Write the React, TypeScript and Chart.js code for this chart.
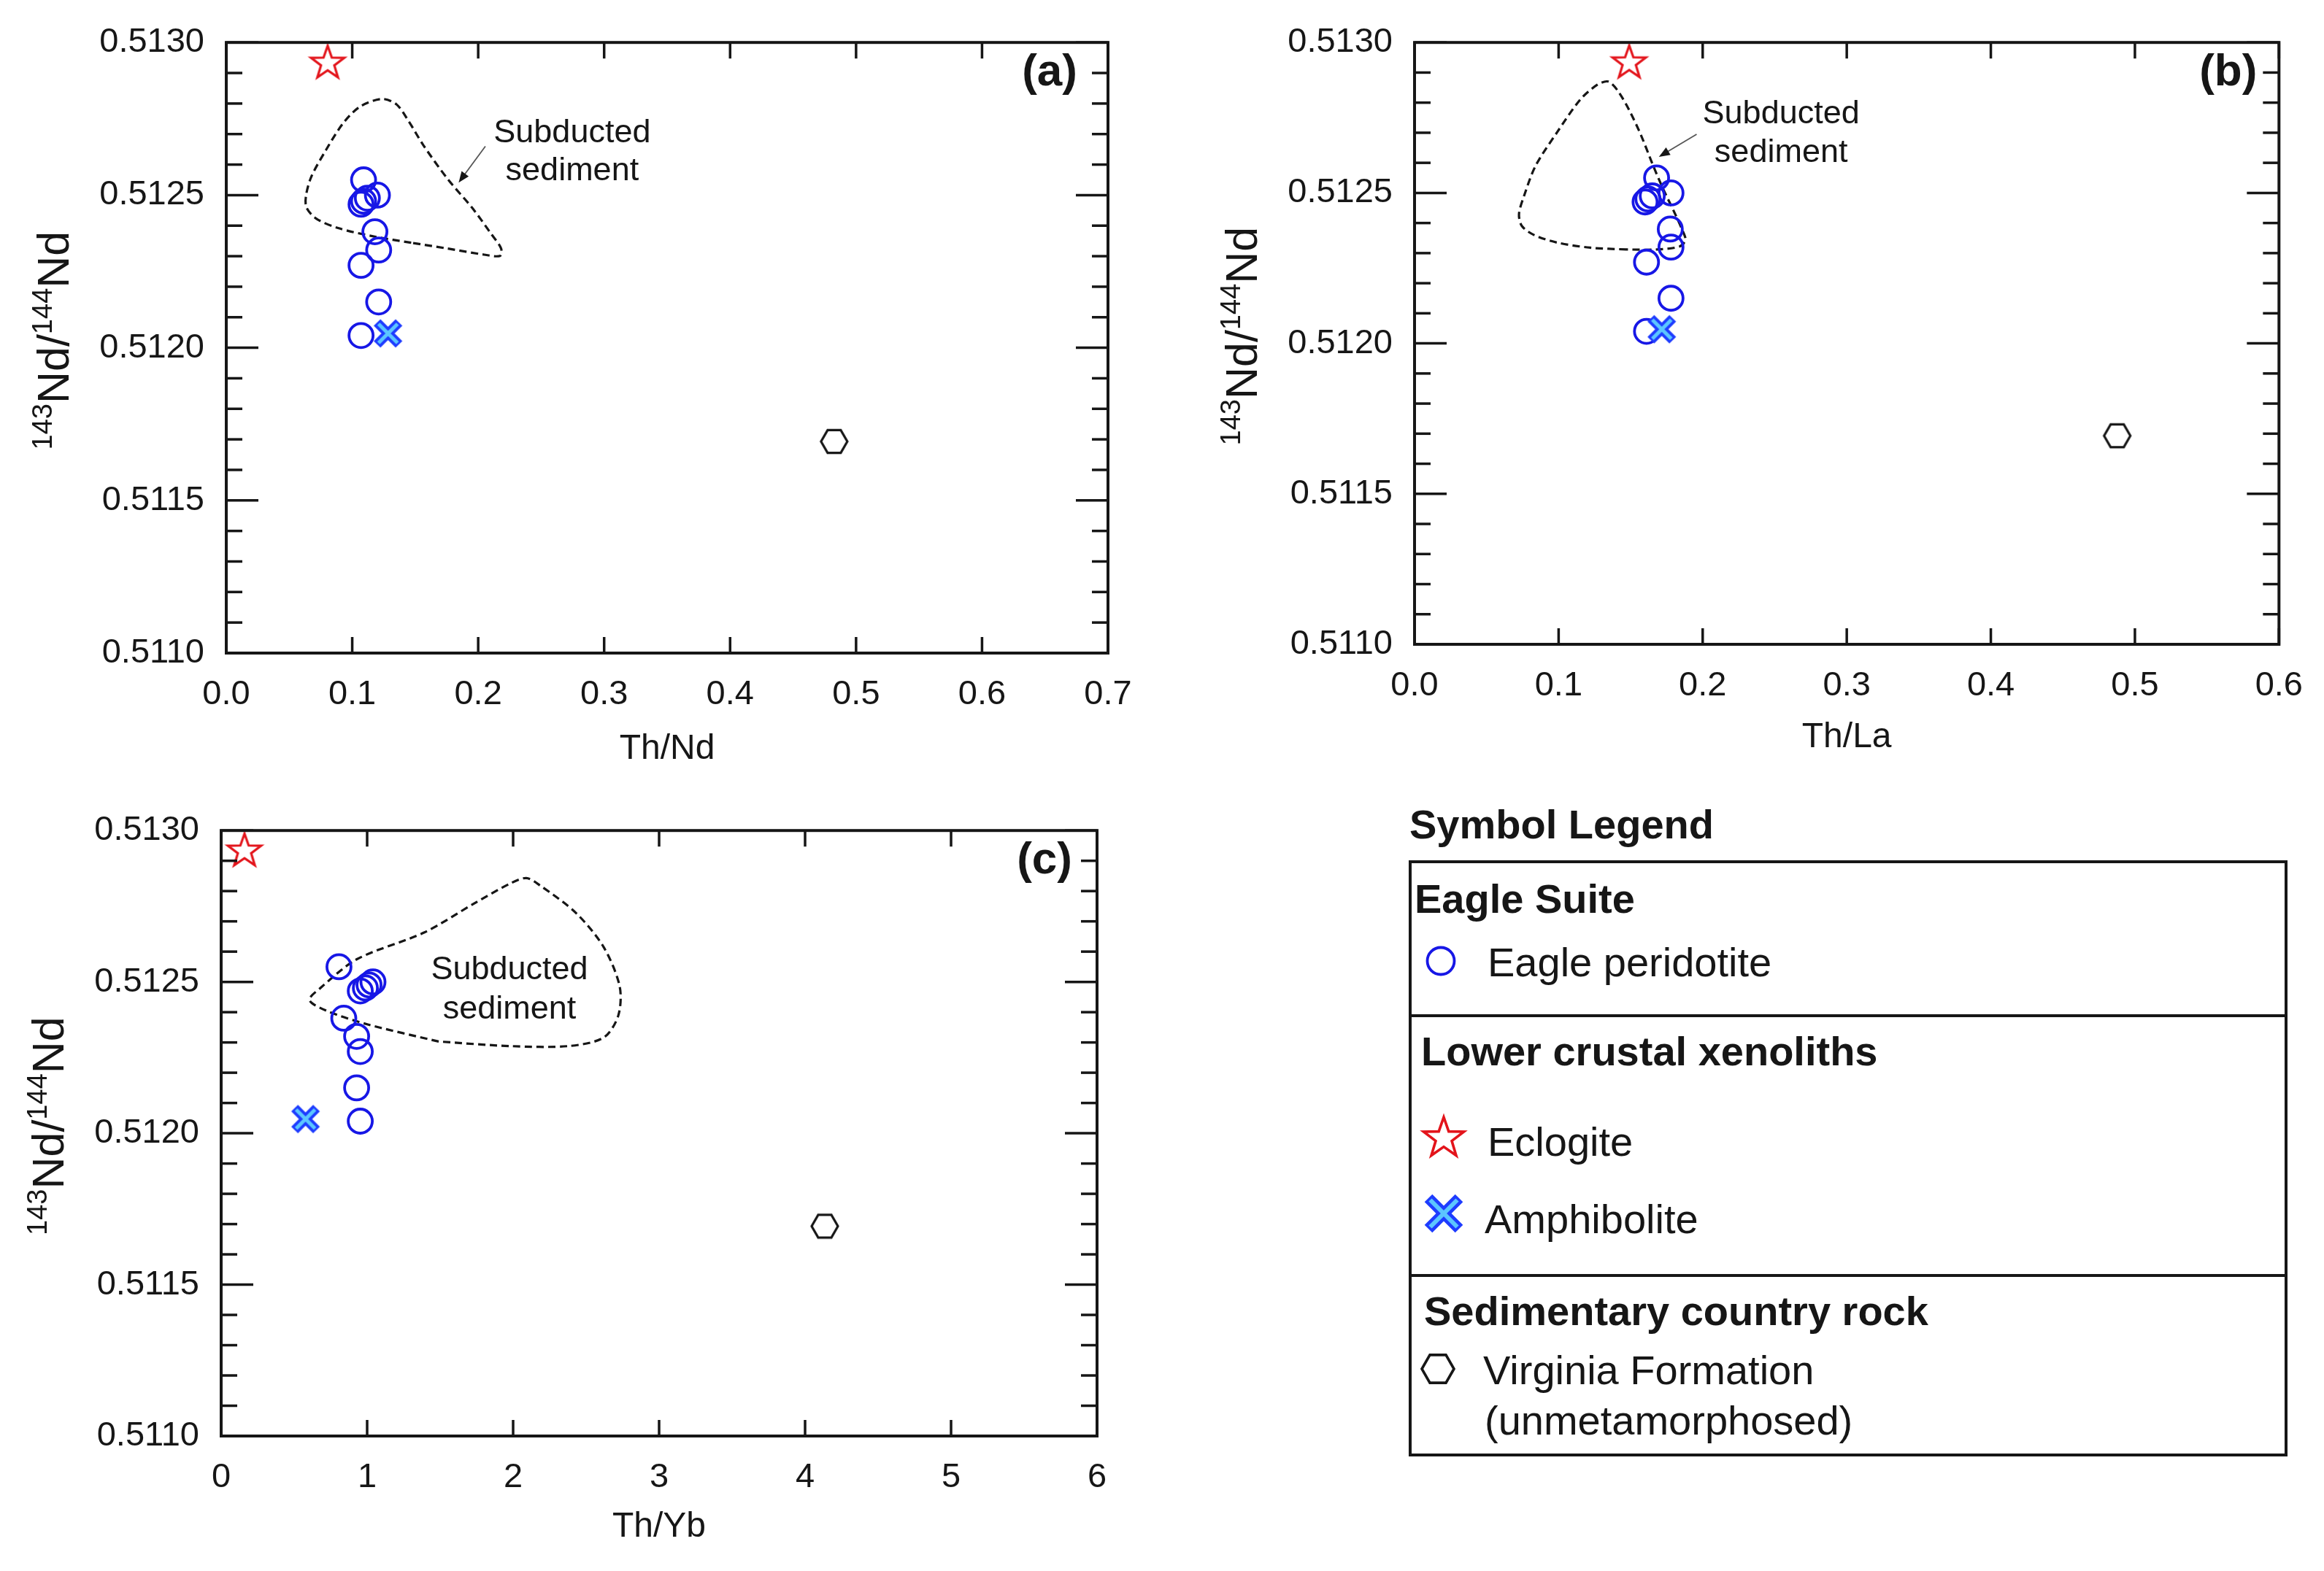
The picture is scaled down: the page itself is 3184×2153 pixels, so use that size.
import React, { useEffect, useRef } from "react";
import { Chart, registerables } from "chart.js";

Chart.register(...registerables);

const FONT = "'Liberation Sans', Arial, Helvetica, sans-serif";
const INK = "#161616";
const BLUE = "#1717e6";
const RED = "#e3141b";
const XBLUE = "#1e3cff";
const XLIGHT = "#5cc6ff";

// ---------- data: 143Nd/144Nd (shared by the three panels) ----------
const peridotiteNd = [0.51255, 0.5125, 0.51247, 0.51248, 0.51249, 0.51238, 0.51232, 0.51227, 0.51215, 0.51204];
const peridotiteThNd = [0.109, 0.12, 0.107, 0.109, 0.112, 0.118, 0.121, 0.107, 0.121, 0.107];
const peridotiteThLa = [0.168, 0.178, 0.16, 0.162, 0.165, 0.1775, 0.178, 0.161, 0.178, 0.161];
const peridotiteThYb = [0.807, 1.04, 0.953, 0.988, 1.013, 0.84, 0.928, 0.953, 0.928, 0.953];

const eclogiteNd = [0.512932];
const eclogiteThNd = [0.0805];
const eclogiteThLa = [0.149];
const eclogiteThYb = [0.16];

const amphiboliteNd = [0.512047];
const amphiboliteThNd = [0.1284];
const amphiboliteThLa = [0.1716];
const amphiboliteThYb = [0.578];

const virginiaNd = [0.511693];
const virginiaThNd = [0.4826];
const virginiaThLa = [0.4877];
const virginiaThYb = [4.135];

// ---------- subducted sediment fields (outline vertices, data units) ----------
const fieldThNdX = [0.1468, 0.1178, 0.0888, 0.0714, 0.0637, 0.0633, 0.0676, 0.0792, 0.0927, 0.1062, 0.1236, 0.1352, 0.1448, 0.1564, 0.1757, 0.1951, 0.2105, 0.2182, 0.2173, 0.2047, 0.1757, 0.1468];
const fieldThNdY = [0.512344, 0.512364, 0.512392, 0.512423, 0.512459, 0.512498, 0.512561, 0.512648, 0.512735, 0.51279, 0.512815, 0.512797, 0.512742, 0.512664, 0.512553, 0.512459, 0.512372, 0.512325, 0.512301, 0.512305, 0.512325, 0.512344];

const fieldThLaX = [0.147, 0.122, 0.099, 0.083, 0.0745, 0.0725, 0.076, 0.084, 0.099, 0.115, 0.127, 0.1345, 0.141, 0.149, 0.157, 0.165, 0.172, 0.18, 0.186, 0.188, 0.184, 0.168, 0.147];
const fieldThLaY = [0.512312, 0.512318, 0.512335, 0.51236, 0.51239, 0.51243, 0.51249, 0.51259, 0.512702, 0.51281, 0.51286, 0.51287, 0.51284, 0.512775, 0.512694, 0.512598, 0.512519, 0.512439, 0.512375, 0.512344, 0.512322, 0.512312, 0.512312];

const fieldThYbX = [1.49, 1.0, 0.72, 0.605, 0.68, 0.93, 1.39, 1.74, 1.98, 2.09, 2.18, 2.43, 2.62, 2.73, 2.72, 2.62, 2.38, 1.98, 1.49];
const fieldThYbY = [0.512303, 0.51236, 0.512405, 0.51244, 0.51248, 0.512575, 0.512663, 0.512761, 0.512825, 0.512843, 0.51282, 0.512728, 0.512615, 0.512485, 0.512388, 0.512316, 0.512288, 0.512288, 0.512303];

// ---------- ticks ----------
const yTicks = [0.511, 0.5111, 0.5112, 0.5113, 0.5114, 0.5115, 0.5116, 0.5117, 0.5118, 0.5119, 0.512, 0.5121, 0.5122, 0.5123, 0.5124, 0.5125, 0.5126, 0.5127, 0.5128, 0.5129, 0.513];
const xTicksThNd = [0, 0.1, 0.2, 0.3, 0.4, 0.5, 0.6, 0.7];
const xTicksThLa = [0, 0.1, 0.2, 0.3, 0.4, 0.5, 0.6];
const xTicksThYb = [0, 1, 2, 3, 4, 5, 6];

type Box = { left: number; top: number; width: number; height: number; yAxisW: number; padTop: number; padRight: number; titlePadBottom: number; letterInset: number };
type PanelDef = {
  letter: string;
  xTitle: string;
  xMax: number;
  xTicks: number[];
  xDecimals: number;
  periX: number[];
  eclX: number[];
  amphX: number[];
  virgX: number[];
  fieldX: number[];
  fieldY: number[];
  label: { x: number; y1: number; y2: number };
  arrow: { x1: number; y1: number; x2: number; y2: number } | null;
  box: Box;
};

const X_AXIS_H = 185;

const PANELS: PanelDef[] = [
  {
    letter: "(a)", xTitle: "Th/Nd", xMax: 0.7, xTicks: xTicksThNd, xDecimals: 1,
    periX: peridotiteThNd, eclX: eclogiteThNd, amphX: amphiboliteThNd, virgX: virginiaThNd,
    fieldX: fieldThNdX, fieldY: fieldThNdY,
    label: { x: 0.2746, y1: 0.512702, y2: 0.512579 },
    arrow: { x1: 0.2057, y1: 0.51266, x2: 0.1845, y2: 0.512541 },
    box: { left: 0, top: 0, width: 1600, height: 1080, yAxisW: 310, padTop: 49, padRight: 82, titlePadBottom: 24, letterInset: 42 },
  },
  {
    letter: "(b)", xTitle: "Th/La", xMax: 0.6, xTicks: xTicksThLa, xDecimals: 1,
    periX: peridotiteThLa, eclX: eclogiteThLa, amphX: amphiboliteThLa, virgX: virginiaThLa,
    fieldX: fieldThLaX, fieldY: fieldThLaY,
    label: { x: 0.2544, y1: 0.512761, y2: 0.512632 },
    arrow: { x1: 0.1958, y1: 0.512695, x2: 0.1696, y2: 0.51262 },
    box: { left: 1600, top: 0, width: 1584, height: 1068, yAxisW: 338, padTop: 45, padRight: 51, titlePadBottom: 28, letterInset: 30 },
  },
  {
    letter: "(c)", xTitle: "Th/Yb", xMax: 6, xTicks: xTicksThYb, xDecimals: 0,
    periX: peridotiteThYb, eclX: eclogiteThYb, amphX: amphiboliteThYb, virgX: virginiaThYb,
    fieldX: fieldThYbX, fieldY: fieldThYbY,
    label: { x: 1.975, y1: 0.512538, y2: 0.512409 },
    arrow: null,
    box: { left: 0, top: 1080, width: 1560, height: 1073, yAxisW: 303, padTop: 41, padRight: 57, titlePadBottom: 31, letterInset: 34 },
  },
];

// ---------- marker glyphs ----------
function starPts(cx: number, cy: number, R: number, ratio: number): [number, number][] {
  const pts: [number, number][] = [];
  for (let i = 0; i < 10; i++) {
    const a = -Math.PI / 2 + (i * Math.PI) / 5;
    const r = i % 2 === 0 ? R : R * ratio;
    pts.push([cx + r * Math.cos(a), cy + r * Math.sin(a)]);
  }
  return pts;
}
function hexPts(cx: number, cy: number, r: number): [number, number][] {
  const pts: [number, number][] = [];
  for (let k = 0; k < 6; k++) {
    const a = (k * Math.PI) / 3;
    pts.push([cx + r * Math.cos(a), cy + r * Math.sin(a)]);
  }
  return pts;
}
function makeCanvas(size: number) {
  const c = document.createElement("canvas");
  c.width = size;
  c.height = size;
  return c;
}
function starCanvas(R: number, lw: number) {
  const s = Math.ceil(2 * R + lw * 4);
  const c = makeCanvas(s);
  const ctx = c.getContext("2d")!;
  ctx.beginPath();
  starPts(s / 2, s / 2, R, 0.4).forEach(([x, y], i) => (i ? ctx.lineTo(x, y) : ctx.moveTo(x, y)));
  ctx.closePath();
  ctx.lineJoin = "miter";
  ctx.lineWidth = lw;
  ctx.strokeStyle = RED;
  ctx.stroke();
  return c;
}
function hexCanvas(r: number, lw: number) {
  const s = Math.ceil(2 * r + lw * 3);
  const c = makeCanvas(s);
  const ctx = c.getContext("2d")!;
  ctx.beginPath();
  hexPts(s / 2, s / 2, r).forEach(([x, y], i) => (i ? ctx.lineTo(x, y) : ctx.moveTo(x, y)));
  ctx.closePath();
  ctx.lineWidth = lw;
  ctx.strokeStyle = INK;
  ctx.stroke();
  return c;
}
function crossCanvas(h: number, outer: number, inner: number) {
  const s = Math.ceil(2 * h + outer * 2);
  const c = makeCanvas(s);
  const ctx = c.getContext("2d")!;
  const m = s / 2;
  const seg = (d: number, w: number, col: string) => {
    ctx.lineWidth = w;
    ctx.strokeStyle = col;
    ctx.lineCap = "butt";
    ctx.beginPath();
    ctx.moveTo(m - d, m - d);
    ctx.lineTo(m + d, m + d);
    ctx.moveTo(m - d, m + d);
    ctx.lineTo(m + d, m - d);
    ctx.stroke();
  };
  seg(h, outer, XBLUE);
  seg(h - 2, inner, XLIGHT);
  return c;
}

function drawYTitle(ctx: CanvasRenderingContext2D, baseX: number, cy: number) {
  const parts = [
    { t: "143", sup: true },
    { t: "Nd/", sup: false },
    { t: "144", sup: true },
    { t: "Nd", sup: false },
  ];
  const big = `61px ${FONT}`;
  const small = `38px ${FONT}`;
  ctx.save();
  ctx.translate(baseX, cy);
  ctx.rotate(-Math.PI / 2);
  const widths = parts.map((p) => {
    ctx.font = p.sup ? small : big;
    return ctx.measureText(p.t).width;
  });
  const total = widths.reduce((a, b) => a + b, 0);
  let x = -total / 2;
  ctx.fillStyle = INK;
  ctx.textBaseline = "alphabetic";
  ctx.textAlign = "left";
  parts.forEach((p, i) => {
    ctx.font = p.sup ? small : big;
    ctx.fillText(p.t, x, p.sup ? -23 : 0);
    x += widths[i];
  });
  ctx.restore();
}

function decorPlugin(p: PanelDef) {
  return {
    id: "decor",
    afterDatasetsDraw(chart: any) {
      const { ctx, chartArea: ca, scales } = chart;
      const xs = scales.x;
      const ys = scales.y;
      ctx.save();
      ctx.strokeStyle = INK;
      ctx.lineCap = "butt";
      ctx.lineWidth = 3.5;
      const line = (x1: number, y1: number, x2: number, y2: number) => {
        ctx.beginPath();
        ctx.moveTo(x1, y1);
        ctx.lineTo(x2, y2);
        ctx.stroke();
      };
      xs.ticks.forEach((t: any) => {
        const px = xs.getPixelForValue(t.value);
        line(px, ca.bottom, px, ca.bottom - 22);
        line(px, ca.top, px, ca.top + 22);
      });
      ys.ticks.forEach((t: any, i: number) => {
        const py = ys.getPixelForValue(t.value);
        const L = i % 5 === 0 ? 44 : 22;
        line(ca.left, py, ca.left + L, py);
        line(ca.right, py, ca.right - L, py);
      });
      ctx.lineWidth = 4;
      ctx.strokeRect(ca.left, ca.top, ca.right - ca.left, ca.bottom - ca.top);

      // arrow
      if (p.arrow) {
        const x1 = xs.getPixelForValue(p.arrow.x1);
        const y1 = ys.getPixelForValue(p.arrow.y1);
        const x2 = xs.getPixelForValue(p.arrow.x2);
        const y2 = ys.getPixelForValue(p.arrow.y2);
        const ang = Math.atan2(y2 - y1, x2 - x1);
        const hl = 15;
        const hw = 6;
        ctx.strokeStyle = "#555";
        ctx.lineWidth = 1.8;
        line(x1, y1, x2 - Math.cos(ang) * hl * 0.8, y2 - Math.sin(ang) * hl * 0.8);
        ctx.fillStyle = INK;
        ctx.beginPath();
        ctx.moveTo(x2, y2);
        ctx.lineTo(x2 - Math.cos(ang) * hl - Math.sin(ang) * hw, y2 - Math.sin(ang) * hl + Math.cos(ang) * hw);
        ctx.lineTo(x2 - Math.cos(ang) * hl + Math.sin(ang) * hw, y2 - Math.sin(ang) * hl - Math.cos(ang) * hw);
        ctx.closePath();
        ctx.fill();
      }

      // field label
      ctx.fillStyle = INK;
      ctx.font = `45px ${FONT}`;
      ctx.textAlign = "center";
      ctx.textBaseline = "middle";
      const lx = xs.getPixelForValue(p.label.x);
      ctx.fillText("Subducted", lx, ys.getPixelForValue(p.label.y1));
      ctx.fillText("sediment", lx, ys.getPixelForValue(p.label.y2));

      // panel letter
      ctx.font = `bold 62px ${FONT}`;
      ctx.textAlign = "right";
      ctx.fillText(p.letter, ca.right - p.box.letterInset, ca.top + 42);

      // y title
      drawYTitle(ctx, ca.left - 216, (ca.top + ca.bottom) / 2 - 10);
      ctx.restore();
    },
  };
}

function Panel({ p }: { p: PanelDef }) {
  const ref = useRef<HTMLCanvasElement>(null);
  useEffect(() => {
    const star = starCanvas(24, 3.2);
    const hex = hexCanvas(18, 3.2);
    const cross = crossCanvas(15, 13, 5);
    const tickFont = { family: FONT, size: 47 };
    const chart = new Chart(ref.current as HTMLCanvasElement, {
      type: "scatter",
      data: {
        datasets: [
          {
            label: "Amphibolite",
            data: p.amphX.map((x, i) => ({ x, y: amphiboliteNd[i] })),
            pointStyle: cross as any,
            pointRadius: 10,
            order: 0,
          },
          {
            label: "Eagle peridotite",
            data: p.periX.map((x, i) => ({ x, y: peridotiteNd[i] })),
            pointStyle: "circle",
            pointRadius: 16.5,
            pointBorderWidth: 3.8,
            pointBorderColor: BLUE,
            pointBackgroundColor: "rgba(0,0,0,0)",
            order: 1,
          },
          {
            label: "Eclogite",
            data: p.eclX.map((x, i) => ({ x, y: eclogiteNd[i] })),
            pointStyle: star as any,
            pointRadius: 10,
            order: 2,
          },
          {
            label: "Virginia Formation",
            data: p.virgX.map((x, i) => ({ x, y: virginiaNd[i] })),
            pointStyle: hex as any,
            pointRadius: 10,
            order: 3,
          },
          {
            type: "line",
            label: "Subducted sediment",
            data: p.fieldX.map((x, i) => ({ x, y: p.fieldY[i] })),
            borderColor: INK,
            borderWidth: 3.2,
            borderDash: [10, 6],
            pointRadius: 0,
            tension: 0.3,
            fill: false,
            order: 10,
          } as any,
        ],
      },
      options: {
        responsive: false,
        animation: false,
        devicePixelRatio: 1,
        events: [],
        layout: { padding: { top: p.box.padTop, right: p.box.padRight, left: 0, bottom: 0 } },
        plugins: { legend: { display: false }, tooltip: { enabled: false } },
        scales: {
          x: {
            type: "linear",
            position: "bottom",
            min: 0,
            max: p.xMax,
            afterBuildTicks: (s: any) => {
              s.ticks = p.xTicks.map((v) => ({ value: v }));
            },
            afterFit: (s: any) => {
              s.height = X_AXIS_H;
            },
            ticks: {
              autoSkip: false,
              maxRotation: 0,
              padding: 29,
              color: INK,
              font: tickFont,
              callback: (v: any) => Number(v).toFixed(p.xDecimals),
            },
            grid: { display: false, drawTicks: false },
            border: { display: false },
            title: {
              display: true,
              text: p.xTitle,
              color: INK,
              font: { family: FONT, size: 48 },
              padding: { top: 0, bottom: p.box.titlePadBottom },
            },
          },
          y: {
            type: "linear",
            position: "left",
            min: 0.511,
            max: 0.513,
            afterBuildTicks: (s: any) => {
              s.ticks = yTicks.map((v) => ({ value: v }));
            },
            afterFit: (s: any) => {
              s.width = p.box.yAxisW;
            },
            ticks: {
              autoSkip: false,
              padding: 30,
              color: INK,
              font: tickFont,
              callback: (v: any, i: number) => (i % 5 === 0 ? Number(v).toFixed(4) : ""),
            },
            grid: { display: false, drawTicks: false },
            border: { display: false },
          },
        },
      } as any,
      plugins: [decorPlugin(p)],
    } as any);
    return () => chart.destroy();
  }, [p]);
  return (
    <canvas
      ref={ref}
      width={p.box.width}
      height={p.box.height}
      style={{ position: "absolute", left: p.box.left, top: p.box.top, width: p.box.width, height: p.box.height }}
    />
  );
}

function Legend() {
  const L = 1930;
  const T = 1179;
  const W = 1204;
  const H = 817;
  const txt = (text: string, left: number, cy: number, bold: boolean) => (
    <div
      key={text}
      style={{
        position: "absolute",
        left,
        top: cy - 27.4,
        font: `${bold ? "bold " : ""}56px ${FONT}`,
        lineHeight: "56px",
        color: INK,
        whiteSpace: "nowrap",
      }}
    >
      {text}
    </div>
  );
  const sp = (pts: [number, number][]) => pts.map(([x, y]) => `${x.toFixed(1)},${y.toFixed(1)}`).join(" ");
  return (
    <>
      {txt("Symbol Legend", 1931, 1129, true)}
      <div style={{ position: "absolute", left: L, top: T, width: W, height: H, border: `4px solid ${INK}`, boxSizing: "border-box" }} />
      <div style={{ position: "absolute", left: L, top: 1390, width: W, height: 4, background: INK }} />
      <div style={{ position: "absolute", left: L, top: 1746, width: W, height: 4, background: INK }} />
      {txt("Eagle Suite", 1938, 1231, true)}
      {txt("Eagle peridotite", 2038, 1318, false)}
      {txt("Lower crustal xenoliths", 1947, 1440, true)}
      {txt("Eclogite", 2038, 1564, false)}
      {txt("Amphibolite", 2034, 1670, false)}
      {txt("Sedimentary country rock", 1951, 1796, true)}
      {txt("Virginia Formation", 2032, 1877, false)}
      {txt("(unmetamorphosed)", 2034, 1946, false)}
      <svg style={{ position: "absolute", left: 0, top: 0 }} width={3184} height={2153}>
        <circle cx={1974} cy={1317} r={18.5} fill="none" stroke={BLUE} strokeWidth={3.8} />
        <polygon points={sp(starPts(1978, 1560, 29, 0.4))} fill="none" stroke={RED} strokeWidth={3.6} strokeLinejoin="miter" />
        <g strokeLinecap="butt">
          <line x1={1957} y1={1642} x2={1999} y2={1684} stroke={XBLUE} strokeWidth={15} />
          <line x1={1957} y1={1684} x2={1999} y2={1642} stroke={XBLUE} strokeWidth={15} />
          <line x1={1959.5} y1={1644.5} x2={1996.5} y2={1681.5} stroke={XLIGHT} strokeWidth={6} />
          <line x1={1959.5} y1={1681.5} x2={1996.5} y2={1644.5} stroke={XLIGHT} strokeWidth={6} />
        </g>
        <polygon points={sp(hexPts(1970, 1876, 22))} fill="none" stroke={INK} strokeWidth={3.6} />
      </svg>
    </>
  );
}

export default function App() {
  return (
    <div
      style={{
        position: "absolute",
        left: 0,
        top: 0,
        width: 3184,
        height: 2153,
        background: "#ffffff",
        overflow: "hidden",
        fontFamily: FONT,
      }}
    >
      {PANELS.map((p) => (
        <Panel key={p.letter} p={p} />
      ))}
      <Legend />
    </div>
  );
}
